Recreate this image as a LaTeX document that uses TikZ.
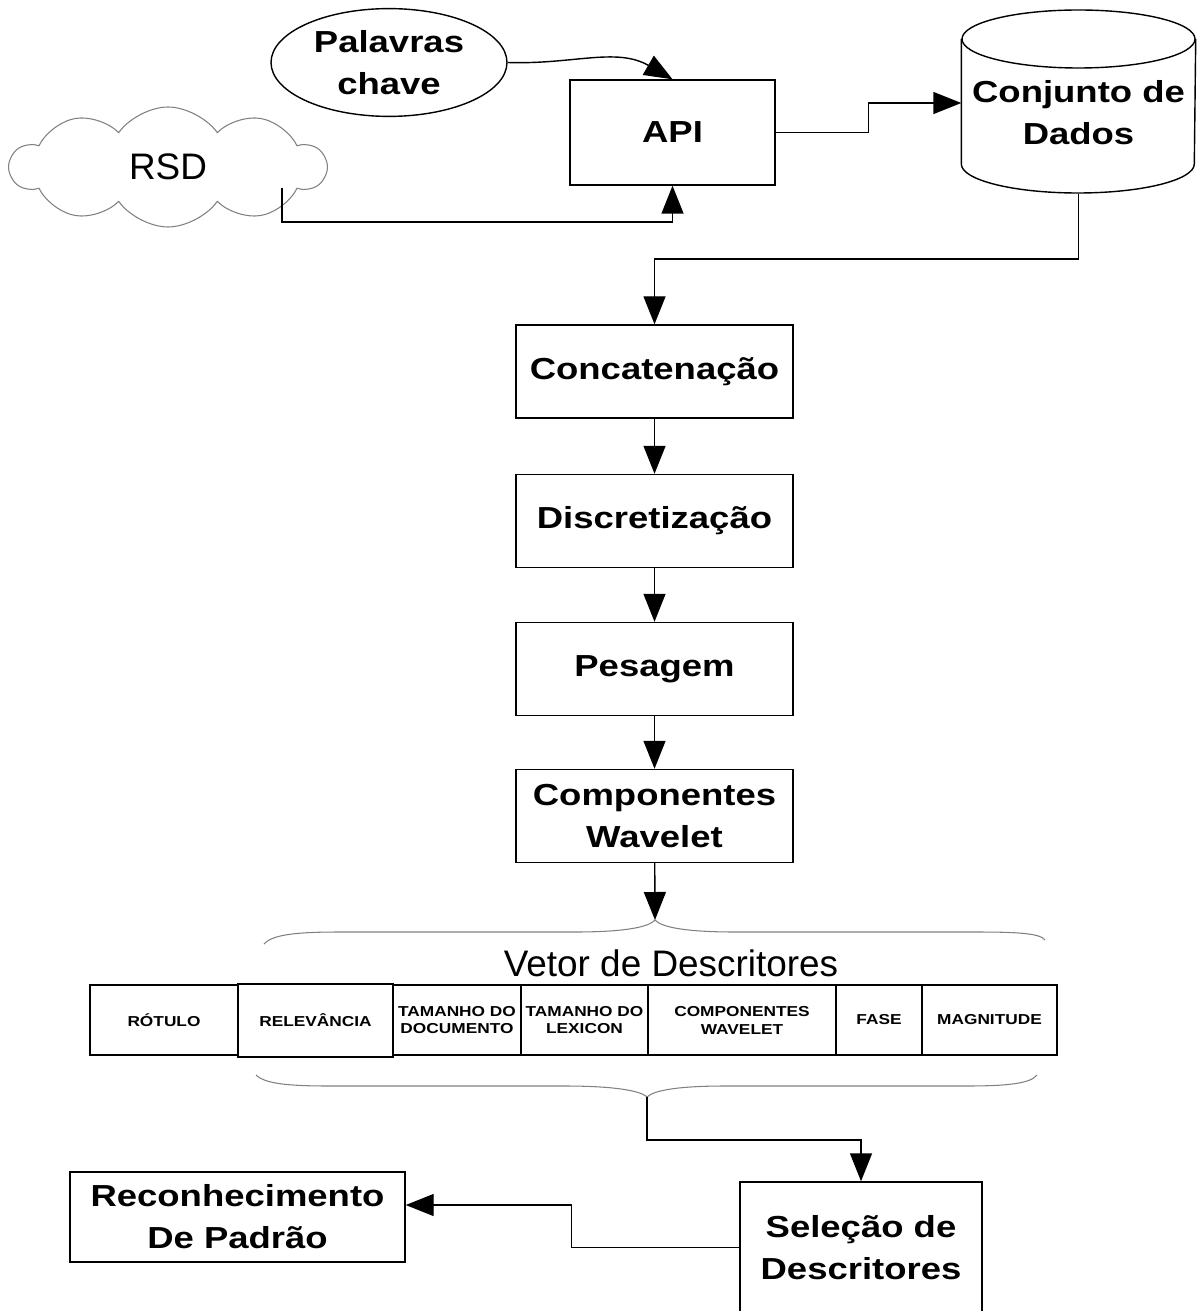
\documentclass[tikz,border=0pt]{standalone}
\usepackage{fontspec}
\setmainfont{Liberation Sans}
\newfontfamily\widefont[FakeStretch=1.2]{Liberation Sans}
\usetikzlibrary{arrows.meta,shapes.geometric,shapes.symbols,calc}

\newcommand{\boxfont}{\widefont\bfseries\fontsize{17.3}{24}\selectfont}
\newcommand{\cellfont}{\widefont\bfseries\fontsize{8.2}{10.2}\selectfont}
\newcommand{\plainfont}{\fontsize{21}{25}\selectfont}

\tikzset{
  etapa/.style={draw, minimum width=5.54cm, minimum height=1.86cm, align=center, font=\boxfont},
  celula/.style={draw, minimum height=1.4cm, align=center, inner sep=0pt, font=\cellfont},
  chave/.style={draw=gray, line width=0.6pt},
}

\begin{document}
\begin{tikzpicture}[>={Triangle[length=0.56cm,width=0.44cm]}, line width=0.8pt]
\useasboundingbox (0,0) rectangle (23.94,-26.22);

% entradas
\node[draw, ellipse, minimum width=4.72cm, minimum height=2.1cm, align=center, font=\boxfont] (kw) at (7.78,-1.25) {Palavras\\chave};
\node[draw=gray, cloud, cloud puffs=10, cloud puff arc=110, cloud ignores aspect, minimum width=6.3cm, minimum height=2.4cm, line width=0.6pt, font=\plainfont] (rsd) at (3.36,-3.34) {RSD};
\node[etapa, minimum width=4.1cm, minimum height=2.1cm] (api) at (13.45,-2.65) {API};
\coordinate (rsdsai) at (5.64,-3.76);

% banco de dados
\node[minimum width=4.66cm, minimum height=3.24cm, align=center, font=\boxfont] (dados) at (21.57,-2.25) {Conjunto de\\Dados};
\draw (dados.west |- 0,-0.78) -- (dados.west |- 0,-3.28) arc[start angle=180, end angle=360, x radius=2.33, y radius=0.58] -- (dados.east |- 0,-0.78);
\draw (dados.center |- 0,-0.78) ellipse [x radius=2.33, y radius=0.58];

% etapas
\node[etapa] (conc) at (13.09,-7.43) {Concatenação};
\node[etapa] (disc) at (13.09,-10.42) {Discretização};
\node[etapa] (pesa) at (13.09,-13.38) {Pesagem};
\node[etapa] (comp) at (13.09,-16.32) {Componentes\\Wavelet};

% vetor
\draw[chave] (5.28,-18.88) .. controls (5.45,-18.68) and (6.0,-18.64) .. (6.8,-18.64) -- (11.5,-18.64)
  .. controls (12.4,-18.64) and (12.96,-18.56) .. (13.1,-18.4)
  .. controls (13.24,-18.56) and (13.8,-18.64) .. (14.7,-18.64) -- (19.5,-18.64)
  .. controls (20.3,-18.64) and (20.8,-18.66) .. (20.9,-18.8);
\coordinate (ctop) at (13.1,-18.4);
\node[font=\plainfont] (vetor) at (13.42,-19.26) {Vetor de Descritores};

\node[celula, minimum width=2.96cm] (rot) at (3.28,-20.4) {RÓTULO};
\node[celula, minimum width=3.1cm, minimum height=1.46cm] (rel) at (6.31,-20.41) {RELEVÂNCIA};
\node[celula, minimum width=2.56cm] (tdoc) at (9.14,-20.4) {TAMANHO DO\\DOCUMENTO};
\node[celula, minimum width=2.54cm] (tlex) at (11.69,-20.4) {TAMANHO DO\\LEXICON};
\node[celula, minimum width=3.76cm] (cwav) at (14.84,-20.4) {COMPONENTES\\WAVELET};
\node[celula, minimum width=1.72cm] (fase) at (17.58,-20.4) {FASE};
\node[celula, minimum width=2.7cm] (magn) at (19.79,-20.4) {MAGNITUDE};

\draw[chave] (5.12,-21.5) .. controls (5.3,-21.68) and (5.8,-21.72) .. (6.6,-21.72) -- (11.3,-21.72)
  .. controls (12.2,-21.72) and (12.8,-21.8) .. (12.94,-21.94)
  .. controls (13.08,-21.8) and (13.6,-21.72) .. (14.5,-21.72) -- (19.3,-21.72)
  .. controls (20.1,-21.72) and (20.6,-21.68) .. (20.74,-21.5);
\coordinate (cbot) at (12.94,-21.94);

% saida
\node[etapa, minimum width=4.84cm, minimum height=2.62cm] (sel) at (17.22,-24.95) {Seleção de\\Descritores};
\node[etapa, minimum width=6.7cm, minimum height=1.8cm] (rec) at (4.75,-24.34) {Reconhecimento\\De Padrão};

% ligacoes
\draw[->] (kw.east) to[out=-2,in=150] (api.north);
\draw[->] (rsdsai) -- ++(0,-0.68) -| (api.south);
\draw[->] (api.east) -- ++(1.86,0) |- (dados.west |- 0,-2.06);
\draw[->] (dados.south) -- ++(0,-1.3) -| (conc.north);
\draw[->] (conc) -- (disc);
\draw[->] (disc) -- (pesa);
\draw[->] (pesa) -- (comp);
\draw[->] (comp) -- (ctop);
\draw[->] (cbot) -- ++(0,-0.86) -| (sel.north);
\draw[->] (sel.west) -- ++(-3.36,0) |- ($(rec.east)+(0,0.24)$);

\end{tikzpicture}
\end{document}
